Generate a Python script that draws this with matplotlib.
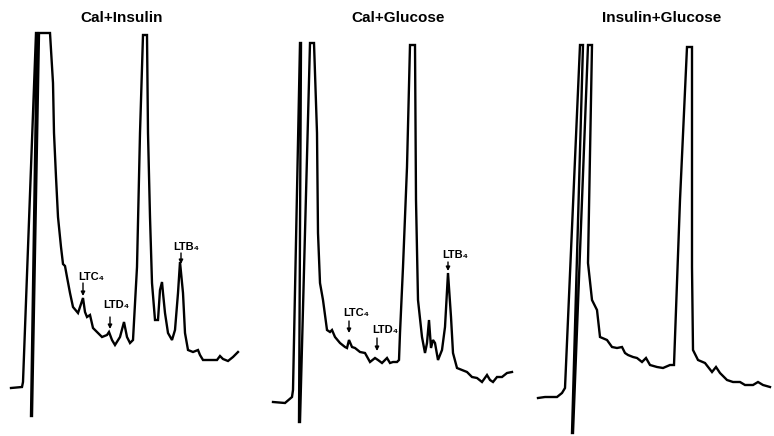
"""Three HPLC traces (leukotriene region) redrawn side by side."""

import matplotlib
matplotlib.use("Agg")
import matplotlib.pyplot as plt

plt.rcParams["font.family"] = ["Liberation Sans", "DejaVu Sans"]

LINE_COLOR = "black"

# retention (panel-local units) and detector signal
cal_ins_time = [11, 22, 23, 36, 37, 31, 32, 39, 50, 53, 54, 56, 58, 61, 63, 65, 67, 70, 73, 78,
                83, 85, 87, 90, 93, 98, 102, 107, 109, 112, 115, 120, 124, 127, 130, 133,
                137, 140, 143, 147, 148, 150, 152, 155, 158, 160, 162, 163, 165, 168, 172,
                175, 178, 180, 183, 185, 188, 193, 198, 200, 203, 212, 217, 220, 223, 228,
                233, 238]
cal_ins_signal = [48, 49, 54, 403, 403, 20, 20, 403, 403, 353, 303, 259, 219, 189, 172, 170, 159,
                  143, 129, 123, 138, 124, 119, 121, 108, 103, 99, 101, 104, 96, 91, 99, 114,
                  99, 93, 96, 169, 303, 401, 401, 303, 219, 153, 116, 116, 146, 154, 143, 123,
                  103, 96, 106, 143, 174, 143, 103, 86, 84, 86, 81, 76, 76, 76, 80, 77, 75,
                  79, 84]

cal_glu_time = [13, 25, 32, 33, 40, 41, 39, 40, 50, 54, 57, 58, 60, 63, 67, 70, 72, 75, 80,
                85, 87, 89, 92, 95, 100, 105, 110, 115, 118, 122, 127, 130, 133, 137, 139,
                140, 143, 147, 150, 155, 156, 158, 162, 165, 167, 169, 171, 173, 175, 178,
                182, 185, 188, 191, 193, 197, 202, 207, 212, 217, 222, 227, 230, 233, 237,
                242, 247, 252]
cal_glu_signal = [34, 33, 39, 46, 393, 393, 14, 14, 393, 393, 303, 203, 153, 136, 106, 104,
                  106, 99, 93, 89, 88, 96, 89, 88, 84, 83, 74, 78, 76, 73, 78, 73, 74, 74, 76,
                  103, 169, 269, 391, 391, 236, 136, 99, 83, 93, 116, 88, 96, 93, 76, 86, 109,
                  163, 119, 83, 68, 66, 64, 59, 58, 54, 61, 56, 54, 59, 59, 63, 64]

ins_glu_time = [18, 25, 37, 42, 45, 60, 63, 52, 53, 68, 72, 68, 72, 77, 80, 87, 92, 97, 102,
                105, 108, 113, 117, 122, 126, 130, 137, 143, 150, 154, 160, 167, 172, 172,
                173, 178, 185, 192, 196, 200, 207, 213, 220, 225, 233, 238, 243, 250]
ins_glu_signal = [38, 39, 39, 43, 48, 391, 391, 3, 3, 391, 391, 173, 136, 126, 99, 96, 89,
                  88, 89, 83, 81, 79, 78, 74, 78, 71, 69, 68, 71, 71, 236, 389, 389, 169, 86,
                  76, 73, 64, 69, 63, 56, 54, 54, 51, 51, 54, 51, 49]

titles = ["Cal+Insulin", "Cal+Glucose", "Insulin+Glucose"]
title_x = [122, 138, 142]

# peak labels: (text, text x, text y, arrow x, arrow top, arrow tip)
cal_ins_peaks = [("LTC₄", 78, 159, 83, 153, 140), ("LTD₄", 103, 131, 110, 119, 107),
                 ("LTB₄", 173, 189, 181, 183, 172)]
cal_glu_peaks = [("LTC₄", 83, 123, 89, 115, 103), ("LTD₄", 112, 106, 117, 98, 85),
                 ("LTB₄", 182, 181, 188, 174, 165)]

panels = [
    (0, 260, cal_ins_time, cal_ins_signal, cal_ins_peaks),
    (260, 260, cal_glu_time, cal_glu_signal, cal_glu_peaks),
    (520, 254, ins_glu_time, ins_glu_signal, []),
]

W, H = 774, 436
fig = plt.figure(figsize=(W / 100, H / 100), dpi=100)

for (left, width, t, s, peaks), title, tx in zip(panels, titles, title_x):
    ax = fig.add_axes([left / W, 0, width / W, 1])
    ax.plot(t, s, color=LINE_COLOR, linewidth=1.7, solid_joinstyle="miter")
    ax.set_xlim(0, width)
    ax.set_ylim(0, H)
    ax.axis("off")
    ax.text(tx, 418, title, ha="center", va="center", fontsize=11, fontweight="bold")
    for label, lx, ly, axx, a0, a1 in peaks:
        ax.text(lx, ly, label, ha="left", va="center", fontsize=8, fontweight="bold")
        ax.annotate("", xy=(axx, a1), xytext=(axx, a0),
                    arrowprops=dict(arrowstyle="-|>", color=LINE_COLOR, lw=1.0,
                                    mutation_scale=6, shrinkA=0, shrinkB=0))

fig.savefig("out.png", dpi=100)
